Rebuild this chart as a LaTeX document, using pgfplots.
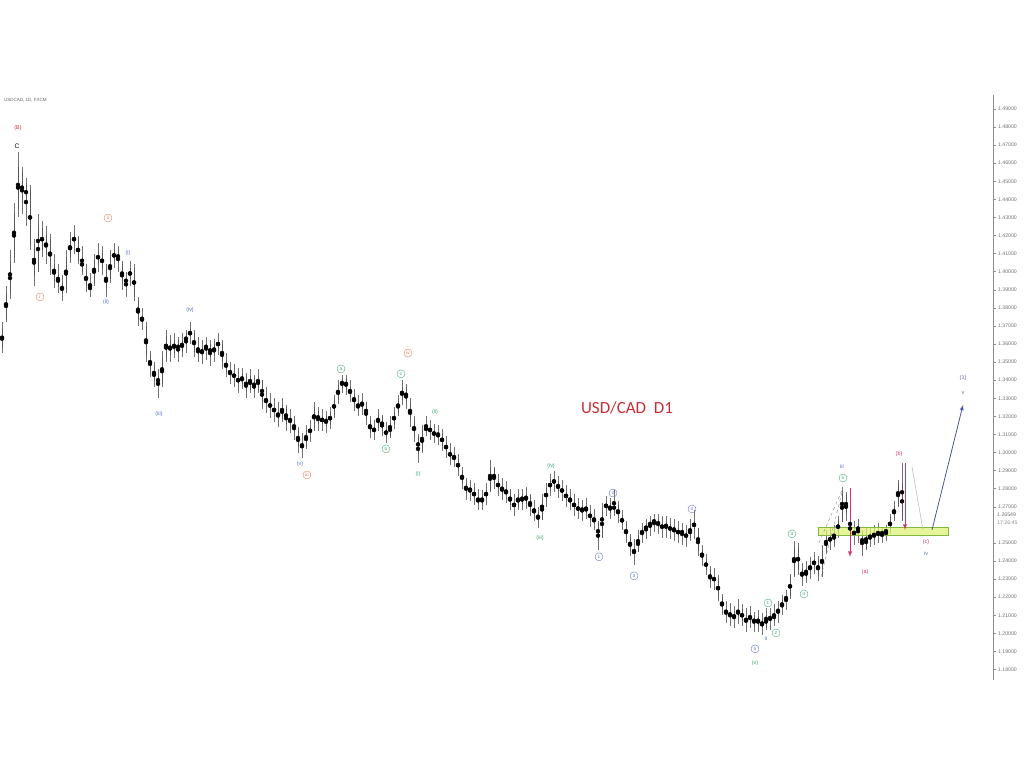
\documentclass[border=0pt]{standalone}
\usepackage{pgfplots}
\pgfplotsset{compat=1.18}
\usepackage{pgfplotstable}
\usepackage{fontspec}
\setmainfont{Liberation Sans}
\newfontfamily\titlefont{Carlito}
\definecolor{wred}{RGB}{226,110,80}
\definecolor{wblue}{RGB}{85,110,200}
\definecolor{wgreen}{RGB}{60,165,110}
\definecolor{wpink}{RGB}{205,50,110}
\definecolor{tred}{RGB}{200,45,55}
\definecolor{boxfill}{RGB}{222,240,120}
\definecolor{boxedge}{RGB}{130,185,60}
\definecolor{wpurple}{RGB}{90,90,170}
\pgfplotstableread{
x lo hi o c
2 1.355 1.372 1.358 1.368
6 1.372 1.392 1.374 1.388
10 1.385 1.412 1.388 1.405
14 1.405 1.438 1.408 1.432
18 1.430 1.466 1.435 1.458
22 1.432 1.458 1.455 1.438
26 1.425 1.452 1.440 1.448
30 1.412 1.448 1.445 1.415
34 1.392 1.418 1.415 1.398
38 1.402 1.432 1.400 1.425
42 1.408 1.428 1.424 1.412
46 1.404 1.425 1.410 1.420
50 1.398 1.421 1.418 1.402
54 1.391 1.410 1.404 1.395
58 1.388 1.404 1.398 1.392
62 1.384 1.398 1.393 1.388
66 1.388 1.412 1.390 1.408
70 1.405 1.422 1.408 1.418
74 1.410 1.426 1.416 1.420
78 1.404 1.420 1.418 1.406
82 1.398 1.414 1.408 1.400
86 1.389 1.404 1.400 1.392
90 1.386 1.399 1.392 1.390
94 1.392 1.410 1.394 1.406
98 1.400 1.416 1.404 1.412
102 1.398 1.414 1.410 1.402
106 1.386 1.404 1.402 1.390
110 1.394 1.412 1.396 1.408
114 1.402 1.416 1.406 1.412
118 1.400 1.414 1.412 1.405
122 1.390 1.406 1.404 1.394
126 1.386 1.400 1.394 1.396
130 1.392 1.406 1.396 1.402
134 1.384 1.404 1.402 1.386
138 1.370 1.386 1.384 1.374
142 1.368 1.380 1.375 1.372
146 1.350 1.372 1.370 1.354
150 1.342 1.356 1.354 1.346
154 1.336 1.350 1.348 1.340
158 1.330 1.346 1.342 1.338
162 1.336 1.356 1.338 1.352
166 1.350 1.368 1.352 1.364
170 1.350 1.365 1.362 1.354
174 1.352 1.366 1.355 1.362
178 1.350 1.364 1.362 1.355
182 1.353 1.366 1.356 1.362
186 1.355 1.368 1.360 1.366
190 1.360 1.372 1.364 1.368
194 1.353 1.368 1.366 1.356
198 1.350 1.364 1.358 1.354
202 1.349 1.362 1.354 1.358
206 1.351 1.364 1.357 1.360
210 1.348 1.362 1.360 1.353
214 1.350 1.363 1.354 1.360
218 1.354 1.366 1.358 1.362
222 1.346 1.362 1.360 1.350
226 1.342 1.355 1.351 1.345
230 1.338 1.350 1.346 1.343
234 1.336 1.349 1.344 1.341
238 1.333 1.347 1.342 1.338
242 1.335 1.347 1.338 1.343
246 1.330 1.344 1.342 1.334
250 1.333 1.346 1.335 1.342
254 1.330 1.343 1.341 1.334
258 1.333 1.346 1.335 1.342
262 1.324 1.340 1.340 1.328
266 1.322 1.336 1.330 1.327
270 1.319 1.333 1.328 1.324
274 1.317 1.330 1.325 1.322
278 1.314 1.328 1.322 1.319
282 1.317 1.330 1.319 1.326
286 1.312 1.326 1.325 1.316
290 1.311 1.324 1.317 1.319
294 1.307 1.320 1.318 1.311
298 1.300 1.314 1.312 1.304
302 1.297 1.311 1.305 1.302
306 1.302 1.315 1.303 1.312
310 1.306 1.318 1.310 1.314
314 1.312 1.328 1.314 1.325
318 1.312 1.325 1.323 1.316
322 1.312 1.324 1.316 1.320
326 1.311 1.323 1.320 1.315
330 1.313 1.325 1.316 1.322
334 1.319 1.332 1.321 1.330
338 1.327 1.340 1.329 1.337
342 1.333 1.343 1.336 1.341
346 1.332 1.343 1.341 1.335
350 1.328 1.340 1.336 1.331
354 1.323 1.335 1.332 1.327
358 1.320 1.332 1.327 1.324
362 1.321 1.333 1.324 1.329
366 1.315 1.328 1.328 1.318
370 1.308 1.320 1.318 1.311
374 1.307 1.318 1.311 1.314
378 1.312 1.324 1.314 1.321
382 1.309 1.321 1.320 1.312
386 1.305 1.317 1.313 1.309
390 1.308 1.320 1.309 1.316
394 1.313 1.325 1.316 1.322
398 1.320 1.332 1.322 1.329
402 1.326 1.340 1.329 1.336
406 1.324 1.338 1.336 1.328
410 1.314 1.330 1.328 1.318
414 1.306 1.320 1.318 1.309
418 1.294 1.310 1.309 1.300
422 1.300 1.315 1.301 1.312
426 1.309 1.320 1.312 1.314
430 1.307 1.318 1.314 1.311
434 1.305 1.316 1.312 1.309
438 1.304 1.315 1.309 1.311
442 1.301 1.313 1.310 1.304
446 1.297 1.309 1.305 1.301
450 1.293 1.305 1.301 1.297
454 1.292 1.303 1.298 1.296
458 1.287 1.299 1.296 1.290
462 1.280 1.292 1.290 1.283
466 1.274 1.286 1.283 1.278
470 1.273 1.285 1.278 1.281
474 1.271 1.283 1.280 1.274
478 1.268 1.280 1.275 1.272
482 1.268 1.279 1.272 1.276
486 1.271 1.283 1.275 1.279
490 1.278 1.296 1.279 1.292
494 1.280 1.292 1.291 1.283
498 1.276 1.288 1.284 1.280
502 1.274 1.286 1.281 1.278
506 1.272 1.284 1.278 1.279
510 1.268 1.280 1.278 1.271
514 1.265 1.277 1.272 1.270
518 1.268 1.280 1.270 1.277
522 1.268 1.280 1.277 1.272
526 1.269 1.281 1.272 1.277
530 1.265 1.277 1.276 1.268
534 1.262 1.274 1.269 1.266
538 1.258 1.270 1.267 1.262
542 1.263 1.277 1.263 1.274
546 1.270 1.283 1.273 1.280
550 1.276 1.288 1.279 1.285
554 1.278 1.290 1.285 1.283
558 1.275 1.287 1.284 1.279
562 1.273 1.285 1.280 1.278
566 1.270 1.282 1.278 1.274
570 1.268 1.280 1.275 1.272
574 1.265 1.277 1.273 1.269
578 1.263 1.275 1.270 1.268
582 1.262 1.274 1.267 1.270
586 1.263 1.275 1.270 1.267
590 1.259 1.271 1.267 1.263
594 1.257 1.269 1.264 1.261
598 1.246 1.262 1.261 1.252
602 1.254 1.272 1.253 1.268
606 1.265 1.276 1.269 1.272
610 1.263 1.275 1.272 1.267
614 1.265 1.279 1.267 1.272
618 1.261 1.273 1.271 1.264
622 1.257 1.268 1.265 1.260
626 1.250 1.262 1.260 1.253
630 1.243 1.255 1.253 1.246
634 1.238 1.252 1.247 1.244
638 1.245 1.257 1.245 1.254
642 1.250 1.261 1.254 1.258
646 1.252 1.263 1.257 1.260
650 1.254 1.265 1.259 1.262
654 1.256 1.266 1.261 1.263
658 1.255 1.266 1.263 1.259
662 1.253 1.265 1.260 1.258
666 1.253 1.265 1.258 1.261
670 1.252 1.264 1.260 1.256
674 1.251 1.263 1.256 1.259
678 1.250 1.262 1.258 1.254
682 1.249 1.261 1.255 1.257
686 1.248 1.260 1.256 1.252
690 1.251 1.263 1.253 1.259
694 1.252 1.268 1.258 1.262
698 1.243 1.258 1.258 1.246
702 1.237 1.249 1.246 1.241
706 1.232 1.244 1.241 1.235
710 1.225 1.237 1.235 1.228
714 1.224 1.236 1.229 1.231
718 1.218 1.232 1.230 1.220
722 1.210 1.222 1.220 1.213
726 1.206 1.218 1.213 1.210
730 1.204 1.217 1.211 1.209
734 1.203 1.215 1.208 1.211
738 1.205 1.219 1.210 1.213
742 1.204 1.216 1.213 1.207
746 1.201 1.214 1.208 1.206
750 1.203 1.215 1.206 1.211
754 1.201 1.212 1.210 1.204
758 1.201 1.213 1.204 1.209
762 1.199 1.211 1.208 1.203
766 1.202 1.214 1.203 1.210
770 1.202 1.214 1.210 1.207
774 1.204 1.216 1.207 1.211
778 1.206 1.218 1.211 1.214
782 1.210 1.221 1.214 1.218
786 1.213 1.224 1.218 1.221
790 1.219 1.233 1.221 1.231
794 1.231 1.251 1.232 1.248
798 1.232 1.250 1.247 1.235
802 1.226 1.239 1.236 1.230
806 1.228 1.240 1.230 1.236
810 1.230 1.242 1.236 1.237
814 1.233 1.245 1.237 1.241
818 1.229 1.243 1.241 1.232
822 1.231 1.249 1.233 1.246
826 1.244 1.257 1.246 1.253
830 1.246 1.258 1.254 1.250
834 1.248 1.260 1.250 1.256
838 1.253 1.265 1.256 1.262
842 1.262 1.281 1.262 1.277
846 1.262 1.278 1.277 1.266
850 1.250 1.266 1.266 1.255
854 1.249 1.262 1.254 1.257
858 1.250 1.263 1.257 1.259
862 1.243 1.257 1.256 1.247
866 1.246 1.258 1.247 1.254
870 1.248 1.259 1.254 1.252
874 1.249 1.260 1.252 1.256
878 1.250 1.261 1.256 1.254
882 1.250 1.259 1.254 1.257
886 1.251 1.260 1.256 1.257
890 1.255 1.266 1.257 1.264
894 1.262 1.273 1.264 1.270
898 1.270 1.285 1.270 1.283
902 1.262 1.294 1.283 1.263
}\bars
\tikzset{
  cl/.style={circle, draw, inner sep=0.4pt, minimum size=8pt, line width=0.35pt, font=\fontsize{4.6}{5}\selectfont},
  pl/.style={inner sep=0pt, font=\fontsize{5.4}{6}\selectfont},
}
\begin{document}
\begin{tikzpicture}
\path[use as bounding box] (0pt,-87pt) rectangle (1024pt,680pt);
\begin{axis}[
  at={(0pt,0pt)}, anchor=south west,
  scale only axis, width=993pt, height=585pt,
  xmin=0, xmax=993, ymin=1.1742, ymax=1.4977,
  axis x line=none, axis y line*=right,
  clip=false,
  y axis line style={draw=black!45, line width=0.5pt},
  ytick={1.18,1.19,1.20,1.21,1.22,1.23,1.24,1.25,1.27,1.28,1.29,1.30,1.31,1.32,1.33,1.34,1.35,1.36,1.37,1.38,1.39,1.40,1.41,1.42,1.43,1.44,1.45,1.46,1.47,1.48,1.49},
  tick align=outside, major tick length=2.5pt,
  tick style={draw=black!45, line width=0.4pt},
  yticklabel style={font=\fontsize{5.2}{6}\selectfont, text=black!55, xshift=-1pt,
    /pgf/number format/.cd, fixed, fixed zerofill, precision=5, assume math mode=true},
]
% high-low
\addplot[only marks, mark=none, error bars/.cd, y dir=both, y explicit, error mark=none,
  error bar style={solid, draw=black!55, line width=0.5pt}]
  table[x=x, y expr=(\thisrow{lo}+\thisrow{hi})/2, y error expr=(\thisrow{hi}-\thisrow{lo})/2] {\bars};
% bodies
\addplot[only marks, mark=none, error bars/.cd, y dir=both, y explicit, error mark=none,
  error bar style={solid, draw=black!65, line width=1.0pt}]
  table[x=x, y expr=(\thisrow{o}+\thisrow{c})/2, y error expr=abs(\thisrow{o}-\thisrow{c})/2+0.0002] {\bars};

% support box and arrows
\draw[draw=boxedge, fill=boxfill, fill opacity=0.75, line width=0.6pt] (axis cs:818,1.2544) rectangle (axis cs:948,1.2589);
\draw[black!40, dashed, line width=0.5pt] (axis cs:821,1.2312) -- (axis cs:843,1.2804);
\draw[black!40, dashed, line width=0.5pt] (axis cs:819,1.2500) -- (axis cs:843,1.2804);
\draw[wpink, line width=0.9pt, -latex] (axis cs:850,1.2804) -- (axis cs:850,1.2423);
\draw[wpink, line width=0.9pt, -latex] (axis cs:905,1.2942) -- (axis cs:905,1.2572);
\draw[black!25, line width=0.6pt] (axis cs:912,1.2920) -- (axis cs:923,1.2572);
\draw[wblue!80!black, line width=0.8pt, -latex] (axis cs:932,1.2572) -- (axis cs:963,1.3263);

% texts
\node[anchor=west, inner sep=0pt, font=\fontsize{4.5}{5}\selectfont, text=black!60] at (axis cs:4,1.4950) {USDCAD, 1D, FXCM};
\node[inner sep=0pt, font=\titlefont\fontsize{17}{18}\selectfont, text=tred] at (axis cs:627,1.3247) {USD/CAD\ \ D1};
\node[pl, tred] at (axis cs:18,1.4795) {(B)};
\node[inner sep=0pt, font=\fontsize{6.5}{7}\selectfont] at (axis cs:17,1.4695) {C};
\node[cl, wred] at (axis cs:40,1.386) {i};
\node[cl, wred] at (axis cs:108,1.4297) {ii};
\node[pl, wblue] at (axis cs:128,1.4104) {(i)};
\node[pl, wblue] at (axis cs:106,1.3833) {(ii)};
\node[pl, wblue] at (axis cs:159,1.3213) {(iii)};
\node[pl, wblue] at (axis cs:190,1.3788) {(iv)};
\node[pl, wblue] at (axis cs:300,1.2937) {(v)};
\node[cl, wred] at (axis cs:307,1.2876) {iii};
\node[cl, wgreen] at (axis cs:341,1.3462) {a};
\node[cl, wgreen] at (axis cs:386,1.3020) {b};
\node[cl, wgreen] at (axis cs:401,1.3435) {c};
\node[cl, wred] at (axis cs:408,1.3550) {iv};
\node[pl, wgreen] at (axis cs:418,1.2882) {(i)};
\node[pl, wgreen] at (axis cs:435,1.3224) {(ii)};
\node[pl, wgreen] at (axis cs:540,1.2528) {(iii)};
\node[pl, wgreen] at (axis cs:551,1.2926) {(iv)};
\node[cl, wblue] at (axis cs:599,1.2423) {1};
\node[cl, wblue] at (axis cs:613,1.2776) {2};
\node[cl, wblue] at (axis cs:634,1.2318) {3};
\node[cl, wblue] at (axis cs:692,1.2688) {4};
\node[cl, wblue] at (axis cs:755,1.1914) {5};
\node[pl, wgreen] at (axis cs:755,1.1836) {(v)};
\node[pl, wblue] at (axis cs:766,1.1969) {ii};
\node[cl, wgreen] at (axis cs:768,1.2168) {1};
\node[cl, wgreen] at (axis cs:776,1.2002) {2};
\node[cl, wgreen] at (axis cs:792,1.2550) {3};
\node[cl, wgreen] at (axis cs:804,1.2218) {4};
\node[pl, wblue] at (axis cs:842,1.2920) {iii};
\node[cl, wgreen] at (axis cs:843,1.2859) {5};
\node[pl, wpink] at (axis cs:865,1.2340) {(a)};
\node[pl, wpink] at (axis cs:899,1.2992) {(b)};
\node[pl, wpink] at (axis cs:926,1.2505) {(c)};
\node[pl, wblue] at (axis cs:926,1.2444) {iv};
\node[pl, wpurple] at (axis cs:963,1.3412) {(1)};
\node[pl, wpurple] at (axis cs:963,1.3329) {v};
% current price label
\node[anchor=west, inner sep=0pt, font=\fontsize{5.2}{6}\selectfont, text=black!55] at (axis cs:997,1.2655) {1.26549};
\node[anchor=west, inner sep=0pt, font=\fontsize{5.2}{6}\selectfont, text=black!45] at (axis cs:997,1.2612) {17:26:45};
\end{axis}
\end{tikzpicture}
\end{document}
